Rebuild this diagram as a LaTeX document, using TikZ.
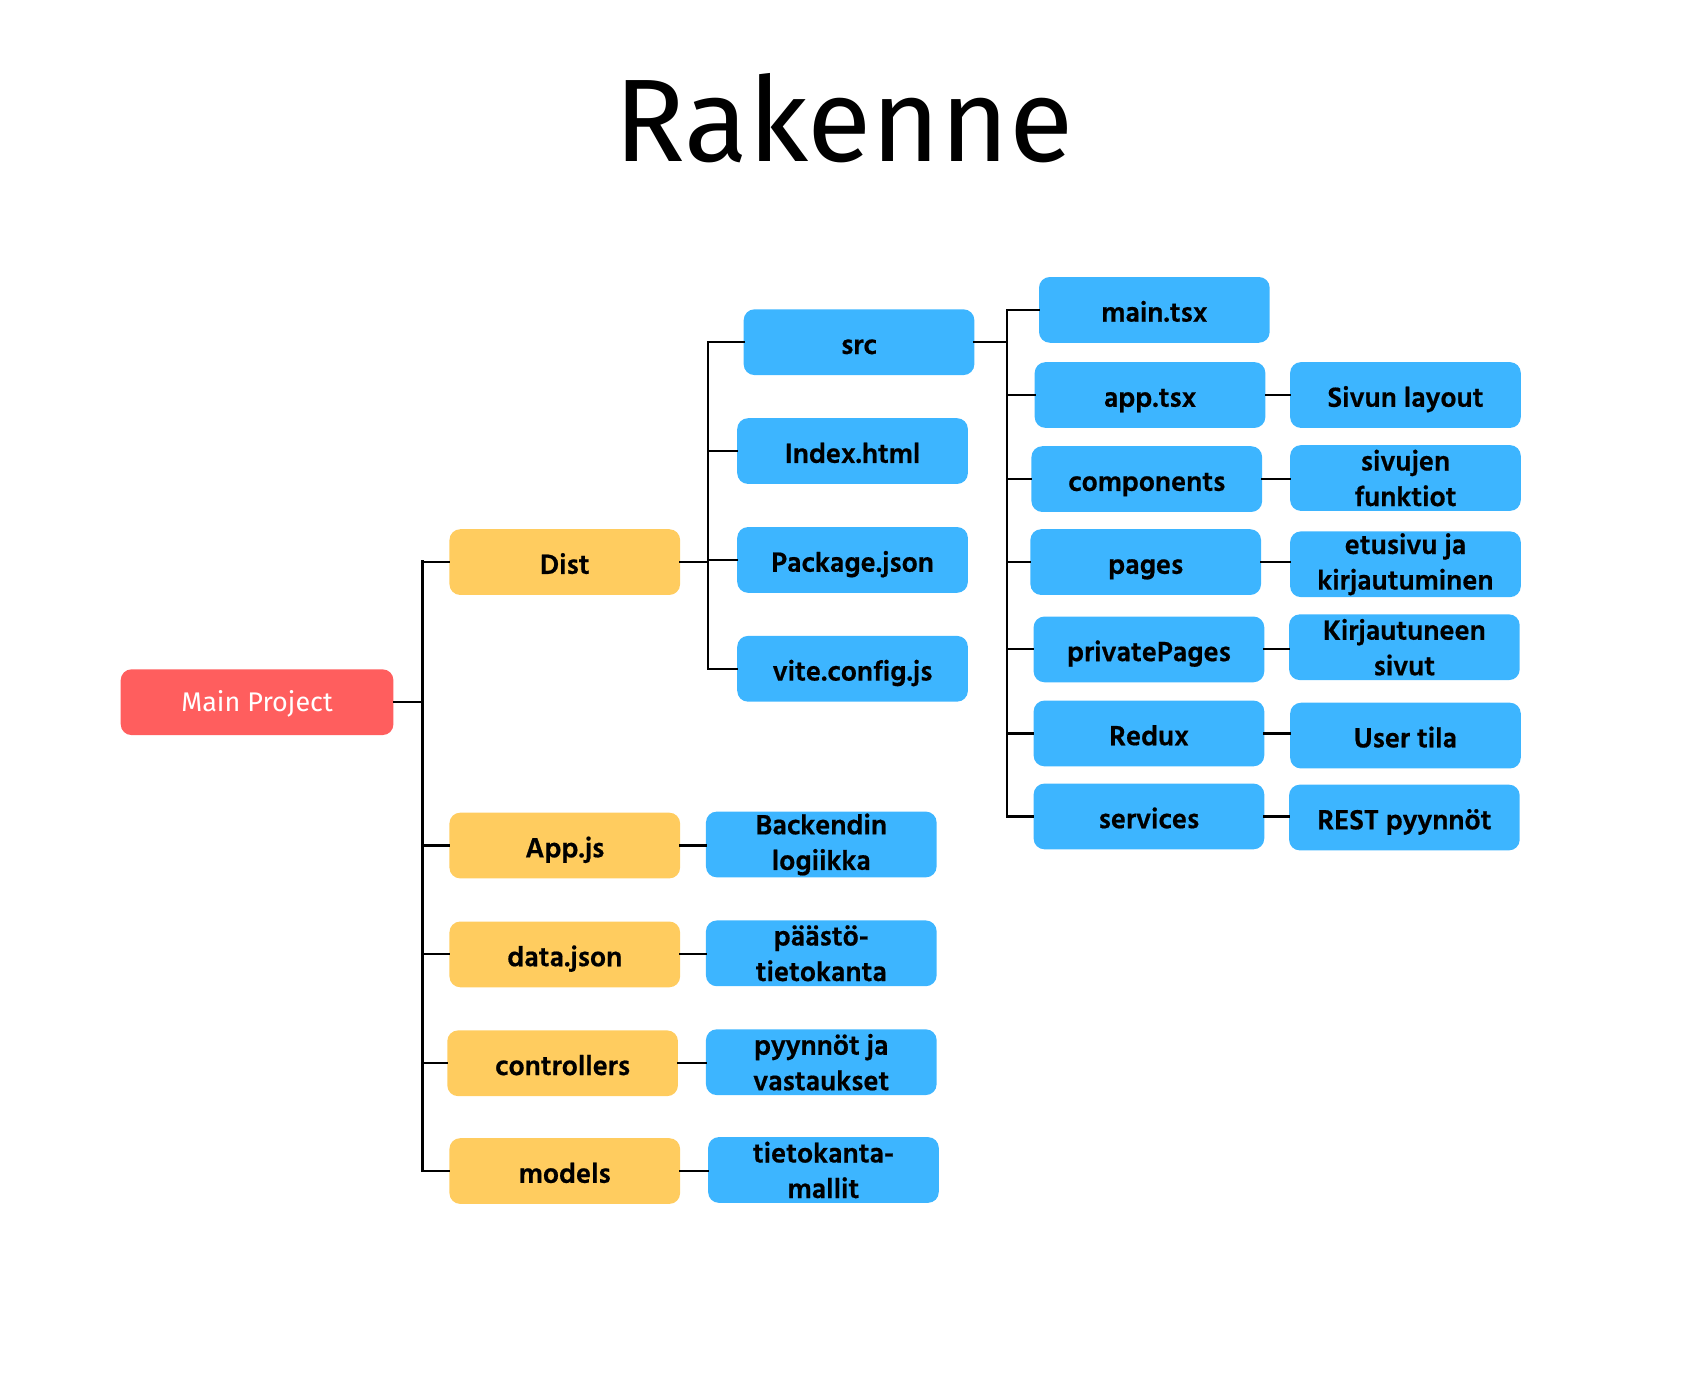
\documentclass[tikz,border=0pt]{standalone}
\usepackage{fontspec}
\setmainfont{Hind Siliguri}[BoldFeatures={FakeBold=0.6}]
\newfontfamily\ttlfont{Fira Sans}
\definecolor{cblue}{HTML}{3DB5FF}
\definecolor{cyel}{HTML}{FFCC5F}
\definecolor{cred}{HTML}{FF5E5E}
\begin{document}
\begin{tikzpicture}[x=1pt,y=-1pt,
  box/.style={rounded corners=10pt, minimum width=214pt, minimum height=61pt, inner sep=0pt,
    font=\fontsize{26.5}{33}\selectfont\bfseries, align=center, text=black},
  oneline/.style={text height=22pt, text depth=0pt},
  bluebox/.style={box, fill=cblue},
  yelbox/.style={box, fill=cyel, oneline},
  redbox/.style={box, fill=cred, minimum width=253pt, text=white, font=\ttlfont\fontsize{25}{30}\selectfont,
    text height=18pt, text depth=0pt},
  link/.style={line width=2pt, black, line cap=rect}]
\useasboundingbox (0,0) rectangle (1568,1275);
\node[anchor=base, font=\ttlfont\fontsize{109}{109}\selectfont] (title) at (783,150) {Rakenne};

\node[redbox] (main) at (238.5,651.5) {Main Project};

\node[yelbox] (dist) at (524,521.5) {Dist};
\node[yelbox] (appjs) at (524,784.5) {App.js};
\node[yelbox] (datajson) at (524,885.5) {data.json};
\node[yelbox] (controllers) at (522,986.5) {controllers};
\node[yelbox] (models) at (524,1086.5) {models};

\node[bluebox] (backend) at (762,783.5) {Backendin\\logiikka};
\node[bluebox] (paasto) at (762,884.5) {päästö-\\tietokanta};
\node[bluebox] (pyynnot) at (762,985.5) {pyynnöt ja\\vastaukset};
\node[bluebox] (tkmallit) at (764,1085.5) {tietokanta-\\mallit};

\node[bluebox, oneline] (src) at (797,317.5) {src};
\node[bluebox, oneline] (index) at (791,418.5) {Index.html};
\node[bluebox, oneline] (package) at (791,519.5) {Package.json};
\node[bluebox, oneline] (vite) at (791,620.5) {vite.config.js};

\node[bluebox, oneline] (maintsx) at (1071,287.5) {main.tsx};
\node[bluebox, oneline] (apptsx) at (1067,366.5) {app.tsx};
\node[bluebox, oneline] (components) at (1064,444.5) {components};
\node[bluebox, oneline] (pages) at (1063,521.5) {pages};
\node[bluebox, oneline] (private) at (1066,602.5) {privatePages};
\node[bluebox, oneline] (redux) at (1066,680.5) {Redux};
\node[bluebox, oneline] (services) at (1066,757.5) {services};

\node[bluebox, oneline] (sivun) at (1304,366.5) {Sivun layout};
\node[bluebox] (funktiot) at (1304,443.5) {sivujen\\funktiot};
\node[bluebox] (etusivu) at (1304,523.5) {etusivu ja\\kirjautuminen};
\node[bluebox] (kirj) at (1303,600.5) {Kirjautuneen\\sivut};
\node[bluebox, oneline] (usertila) at (1304,682.5) {User tila};
\node[bluebox, oneline] (rest) at (1303,758.5) {REST pyynnöt};

% trunk A
\coordinate (ta1) at (392,521);
\coordinate (ta2) at (392,1086);
\draw[link] (ta1) -- (ta2);
\draw[link] (main.east) -- (main.east -| ta1);
\foreach \n in {dist,appjs,datajson,controllers,models}
  \draw[link] (ta1 |- \n.west) -- (\n.west);
\draw[link] (appjs.east) -- (appjs.east -| backend.west);
\draw[link] (datajson.east) -- (datajson.east -| paasto.west);
\draw[link] (controllers.east) -- (controllers.east -| pyynnot.west);
\draw[link] (models.east) -- (models.east -| tkmallit.west);

% trunk B
\coordinate (tb1) at (657,318);
\coordinate (tb2) at (657,620);
\draw[link] (tb1) -- (tb2);
\draw[link] (dist.east) -- (dist.east -| tb1);
\foreach \n in {src,index,package,vite}
  \draw[link] (tb1 |- \n.west) -- (\n.west);

% trunk C
\coordinate (tc1) at (934,288);
\coordinate (tc2) at (934,758);
\draw[link] (tc1) -- (tc2);
\draw[link] (src.east) -- (src.east -| tc1);
\foreach \n in {maintsx,apptsx,components,pages,private,redux,services}
  \draw[link] (tc1 |- \n.west) -- (\n.west);
\draw[link] (apptsx.east) -- (apptsx.east -| sivun.west);
\draw[link] (components.east) -- (components.east -| funktiot.west);
\draw[link] (pages.east) -- (pages.east -| etusivu.west);
\draw[link] (private.east) -- (private.east -| kirj.west);
\draw[link] (redux.east) -- (redux.east -| usertila.west);
\draw[link] (services.east) -- (services.east -| rest.west);
\end{tikzpicture}
\end{document}
